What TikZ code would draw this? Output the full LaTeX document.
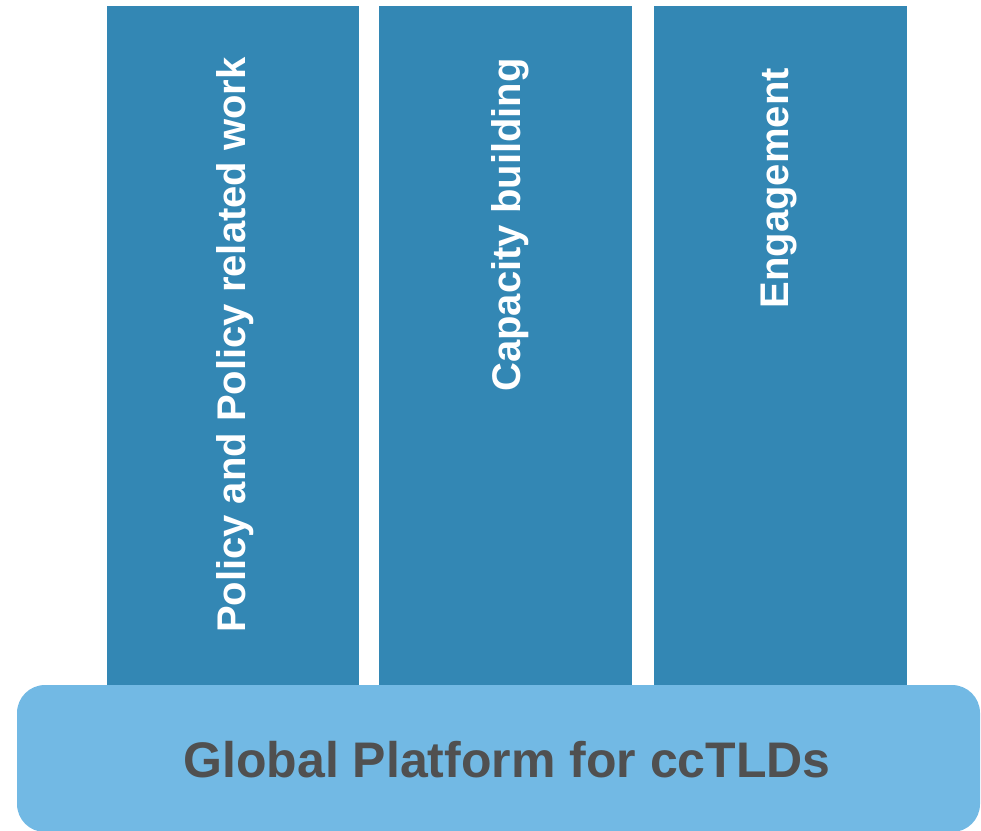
\documentclass[tikz,border=0pt]{standalone}
\usepackage{fontspec}
\setmainfont{Liberation Sans}
\usepackage{xcolor}

\definecolor{pillarblue}{RGB}{51,135,180}
\definecolor{baseblue}{RGB}{114,185,228}
\definecolor{basetext}{RGB}{80,80,80}

\tikzset{
    pillar/.style={fill=pillarblue, draw=none},
    pillartext/.style={rotate=90, anchor=base east, inner sep=0pt, text=white,
        font=\fontsize{40}{48}\selectfont\bfseries},
    platform/.style={fill=baseblue, draw=none, rounded corners=28pt},
}

\begin{document}
\begin{tikzpicture}[x=1pt, y=-1pt]
    \useasboundingbox (0,0) rectangle (981,830);

    % pillars
    \draw[pillar] (107,6) rectangle (359,690);
    \draw[pillar] (379,6) rectangle (632,690);
    \draw[pillar] (654,6) rectangle (907,690);

    \node[pillartext] (policy) at (245,57) {Policy and Policy related work};
    \node[pillartext] (capacity) at (520,58) {Capacity building};
    \node[pillartext] (engage) at (788,68) {Engagement};

    % base
    \draw[platform] (17,685) rectangle (980,832);
    \node[inner sep=0pt, anchor=base, text=basetext,
        font=\fontsize{50}{60}\selectfont\bfseries] (platform) at (507,777)
        {Global Platform for ccTLDs};
\end{tikzpicture}
\end{document}
